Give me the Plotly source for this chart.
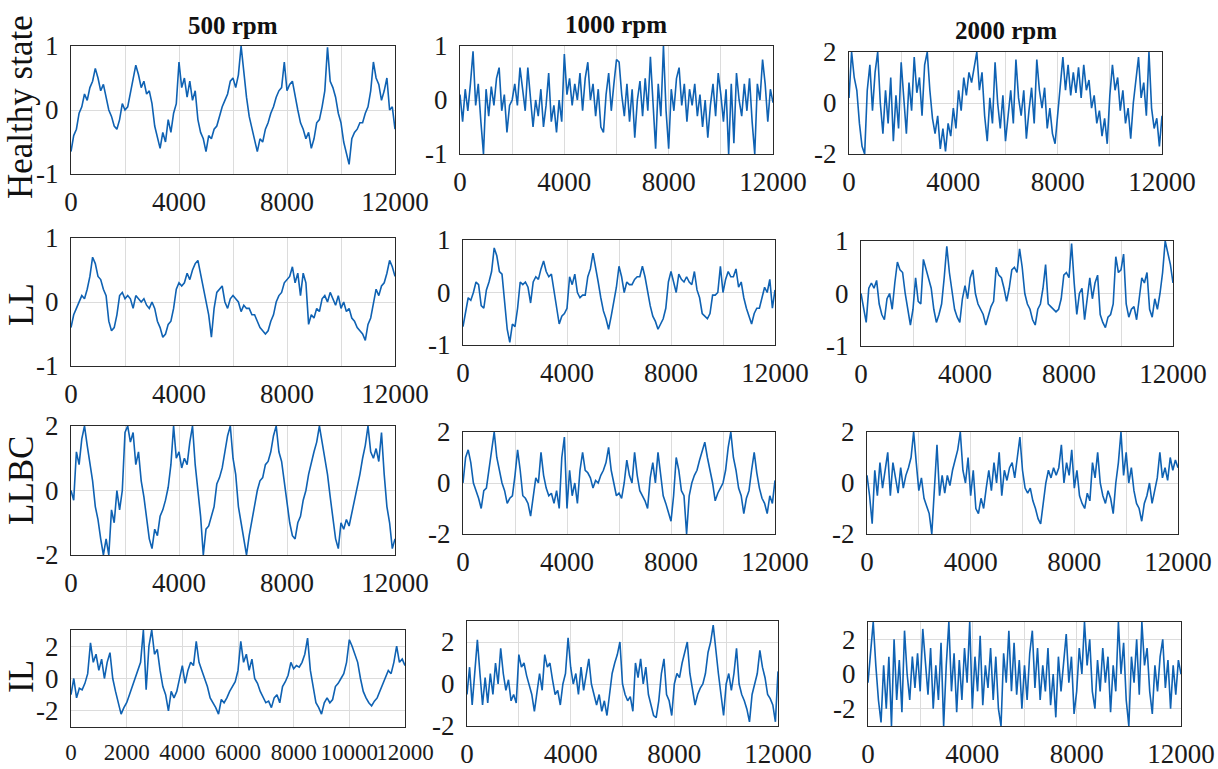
import plotly.graph_objects as go

W, H = 1218, 769

# sample index axis (every 100 samples)
samples = list(range(0, 12001, 100))

healthy_500 = [-0.65,-0.4,-0.3,-0.05,0.05,0.25,0.15,0.35,0.45,0.65,0.5,0.3,0.4,0.2,0.0,-0.1,-0.25,-0.3,-0.15,0.1,
0.0,0.05,0.25,0.45,0.7,0.55,0.35,0.45,0.25,0.3,0.1,-0.25,-0.45,-0.6,-0.35,-0.5,-0.15,-0.35,-0.05,0.1,
0.75,0.35,0.5,0.2,0.45,0.15,0.3,-0.15,-0.35,-0.45,-0.65,-0.4,-0.45,-0.3,-0.25,-0.1,0.05,0.15,0.25,0.45,
0.5,0.35,0.55,1.0,0.55,0.2,-0.1,-0.3,-0.5,-0.65,-0.45,-0.5,-0.3,-0.2,-0.05,0.05,0.2,0.3,0.35,0.75,
0.3,0.4,0.45,0.2,0.0,-0.2,-0.3,-0.45,-0.35,-0.6,-0.45,-0.2,-0.15,0.05,0.3,0.98,0.45,0.35,0.2,-0.05,
-0.2,-0.5,-0.7,-0.85,-0.45,-0.35,-0.3,-0.2,-0.2,-0.05,0.05,0.3,0.75,0.5,0.4,0.15,0.3,0.5,0.0,0.05,-0.3]

healthy_1000 = [0.1,-0.4,0.2,-0.2,0.3,0.9,-0.1,0.3,-0.4,-1.0,0.2,-0.3,0.25,-0.1,0.4,0.6,-0.2,0.1,-0.6,-0.1,
0.0,0.3,-0.1,0.6,0.2,-0.2,0.6,0.1,-0.5,0.0,-0.3,0.2,-0.5,-0.1,0.5,-0.4,-0.1,-0.6,0.0,-0.4,
0.85,0.1,0.4,-0.1,0.3,0.0,0.5,-0.2,0.4,0.7,0.0,0.3,-0.3,0.2,-0.5,-0.6,0.1,0.5,-0.2,0.3,
0.75,0.7,0.1,-0.3,0.3,-0.4,0.2,-0.7,0.0,0.35,-0.3,0.4,-0.2,0.8,0.0,-0.9,0.3,-0.3,1.0,-0.2,
-0.9,0.2,-0.2,0.4,0.6,-0.1,0.3,-0.4,0.2,-0.1,0.3,-0.3,0.1,-0.5,0.0,-0.7,-0.1,0.3,-0.3,0.5,
0.1,-0.4,0.2,-1.0,0.3,-0.8,0.5,0.0,-0.3,0.3,-0.2,0.4,-0.4,-1.0,0.3,0.0,0.75,0.3,-0.4,0.2,-0.05]

healthy_2000 = [0.2,2.0,1.0,0.5,-0.8,-1.7,-2.0,0.5,1.5,-0.3,1.2,2.0,0.0,-1.2,0.5,-0.8,1.0,-1.5,0.3,-1.0,
1.6,0.2,-1.2,0.8,-0.3,1.8,0.4,1.0,-0.5,1.5,2.0,0.5,-0.6,-1.2,-0.5,-1.8,-1.0,-1.9,-0.8,-1.3,
-0.2,-1.0,0.5,-0.3,1.0,0.3,1.2,0.8,1.5,2.0,0.5,1.2,-0.5,-1.5,0.2,-0.8,1.6,0.0,-1.0,0.3,
-1.5,-0.5,0.5,-0.8,1.7,0.2,-0.5,0.5,-1.4,-0.3,0.6,-0.8,1.7,0.5,-0.2,0.6,-1.0,-0.2,-1.2,-1.6,
-0.5,0.8,1.8,0.5,1.5,0.3,1.2,0.4,1.4,0.2,1.5,0.5,0.9,-0.2,0.3,-0.8,-0.3,-1.3,-0.6,-1.6,
0.3,1.5,0.5,1.0,-0.3,0.5,-0.8,-0.2,-1.4,0.0,1.0,1.8,0.2,0.8,-0.5,2.0,-0.2,-1.0,-0.6,-1.7,-0.5]

ll_500 = [-0.4,-0.2,-0.1,0.0,0.1,0.05,0.2,0.4,0.7,0.6,0.4,0.35,0.2,0.1,-0.3,-0.45,-0.4,-0.2,0.1,0.15,
0.05,0.1,0.05,-0.1,0.1,0.05,0.0,0.05,-0.05,-0.1,0.0,-0.1,-0.3,-0.4,-0.55,-0.5,-0.35,-0.3,-0.1,0.2,
0.3,0.25,0.3,0.45,0.35,0.5,0.6,0.65,0.45,0.25,0.05,-0.2,-0.55,-0.1,0.15,0.2,0.25,0.0,-0.1,0.05,
0.1,0.05,0.0,-0.15,-0.05,-0.1,-0.1,-0.2,-0.2,-0.3,-0.4,-0.45,-0.5,-0.45,-0.3,-0.2,0.0,0.1,0.15,0.3,
0.35,0.4,0.55,0.3,0.45,0.1,0.45,0.3,-0.35,-0.2,-0.25,-0.1,-0.15,0.05,0.1,0.0,0.15,0.05,-0.05,0.1,
-0.1,0.0,-0.15,-0.1,-0.25,-0.3,-0.4,-0.45,-0.5,-0.6,-0.35,-0.25,-0.05,0.2,0.1,0.25,0.3,0.45,0.65,0.55,0.4]

ll_1000 = [-0.65,-0.4,-0.1,-0.15,0.0,0.2,0.15,-0.25,-0.3,0.05,0.2,0.4,0.85,0.7,0.4,0.35,-0.2,-0.7,-0.95,-0.6,
-0.65,-0.3,0.2,0.15,0.2,0.1,-0.2,0.2,0.3,0.25,0.45,0.6,0.4,0.3,0.35,0.0,-0.3,-0.6,-0.45,-0.4,
-0.3,0.3,0.15,0.35,0.0,-0.1,-0.05,-0.05,0.3,0.45,0.75,0.5,0.2,-0.1,-0.35,-0.5,-0.7,-0.45,-0.2,0.1,
0.5,0.3,0.0,0.2,0.15,0.15,0.25,0.3,0.3,0.5,0.3,0.0,-0.25,-0.45,-0.55,-0.7,-0.6,-0.5,-0.3,0.2,
0.4,0.2,0.0,0.35,0.25,0.2,0.3,0.2,0.15,0.4,0.05,-0.1,-0.4,-0.45,-0.5,-0.4,-0.05,-0.05,0.0,0.5,
0.0,0.25,0.4,0.3,0.3,0.45,0.1,0.2,-0.1,-0.3,-0.45,-0.6,-0.4,-0.3,-0.3,-0.1,0.1,0.0,0.25,-0.3,0.05]

ll_2000 = [0.0,-0.3,-0.55,0.1,0.2,0.1,0.25,-0.2,-0.4,-0.5,-0.1,0.0,-0.3,0.2,0.6,0.45,0.4,0.0,-0.3,-0.6,
-0.3,0.3,-0.15,-0.2,0.65,0.45,0.3,0.1,-0.3,-0.55,-0.4,-0.2,0.3,0.9,0.4,0.0,-0.3,-0.45,-0.55,-0.1,
0.15,-0.1,0.3,0.45,0.0,-0.2,-0.3,-0.4,-0.6,-0.4,-0.25,-0.15,0.5,0.35,0.3,0.1,-0.15,0.1,0.45,0.5,
0.4,0.85,0.5,0.0,-0.2,-0.3,-0.5,-0.6,-0.3,-0.2,0.1,0.55,-0.2,-0.25,-0.3,-0.35,-0.3,-0.1,0.35,0.4,
0.3,0.95,0.2,-0.4,0.0,0.1,-0.5,-0.1,0.3,-0.1,0.2,0.35,-0.4,-0.55,-0.65,-0.45,-0.4,-0.2,0.7,0.4,
0.45,0.75,-0.2,-0.45,-0.3,-0.25,-0.5,-0.1,0.3,0.2,0.4,-0.3,-0.45,-0.1,-0.3,0.0,0.4,1.0,0.8,0.55,0.2]

llbc_500 = [0.0,-0.3,1.2,0.8,1.6,2.0,1.4,0.8,0.3,-0.5,-0.9,-1.5,-2.0,-1.5,-2.0,-0.6,-1.0,0.0,-0.6,0.0,
1.8,2.0,1.5,1.8,0.8,1.2,0.3,-0.2,-0.8,-1.5,-1.8,-1.2,-1.4,-0.8,-0.6,-0.3,0.1,0.8,2.0,1.0,
1.2,0.7,1.0,0.8,1.5,2.0,0.8,0.0,-0.8,-2.0,-1.2,-1.1,-0.8,-0.5,0.2,0.4,0.7,1.2,1.7,2.0,
1.0,0.5,-0.5,-1.0,-1.5,-2.0,-1.4,-0.9,-0.5,0.0,0.3,0.4,0.8,0.9,1.2,1.7,2.0,1.2,0.9,0.3,
-0.4,-1.0,-1.4,-1.5,-1.0,-0.8,-0.3,0.0,0.5,0.9,1.2,1.5,2.0,1.5,1.0,0.5,-0.2,-0.8,-1.5,-1.8,
-1.0,-1.2,-0.9,-1.1,-0.7,-0.3,0.0,0.5,1.0,1.4,2.0,1.2,1.0,1.3,0.9,1.8,0.5,-0.5,-1.0,-1.8,-1.5]

llbc_1000 = [0.0,1.0,1.3,0.8,0.0,-0.3,-0.6,-1.0,-0.3,-0.2,0.5,1.2,2.0,1.0,0.5,0.0,-0.3,-0.8,-0.6,-0.5,
0.3,1.3,0.5,-0.5,-0.6,-0.8,-1.3,-0.5,0.2,0.0,1.2,0.3,-0.2,-0.5,-0.4,-0.8,-0.3,-1.0,1.0,1.8,
-1.0,0.5,-0.5,0.0,-0.8,0.5,1.2,0.5,0.4,0.2,-0.2,0.1,0.0,0.3,0.5,0.8,1.4,0.5,0.0,-0.5,
-0.4,-0.6,0.0,0.9,0.3,0.0,1.2,0.3,-0.3,-0.5,-0.7,-1.0,0.2,0.8,0.0,1.2,0.3,-0.5,-0.8,-1.2,
-1.5,-0.5,1.0,0.5,-0.3,-0.5,-2.0,-0.5,0.0,0.3,0.5,0.9,1.3,1.6,1.0,0.5,0.0,-0.7,-0.4,-0.2,
0.0,0.5,1.4,2.0,1.0,0.5,-0.2,-0.5,-1.2,-0.6,-0.3,0.5,1.2,0.4,-0.2,-0.6,-0.8,-1.2,-0.5,-0.8,0.1]

llbc_2000 = [0.3,-0.5,-1.6,0.5,-0.5,0.8,-0.2,0.5,1.2,-0.5,0.8,0.2,-0.4,0.6,-0.2,0.3,0.6,1.0,2.0,0.8,
-0.3,0.2,-0.6,-0.9,-1.2,-2.0,0.0,1.5,-0.5,0.3,-0.4,0.3,-0.1,0.5,0.9,1.3,2.0,0.5,0.0,1.0,
-0.5,0.5,-1.0,-1.2,-0.6,-1.0,-0.2,0.5,-0.3,0.8,0.0,1.2,-0.5,0.5,0.1,0.6,0.8,0.2,1.0,1.8,
0.5,-0.2,-0.4,-0.2,-0.7,-1.0,-1.4,-1.6,-0.8,0.0,0.5,0.2,0.6,0.3,0.6,1.5,0.0,0.8,0.3,1.3,
-0.2,0.5,-0.5,-0.8,-1.0,-0.4,-0.7,0.8,0.2,1.2,0.0,-0.5,-0.8,-0.3,-0.6,-1.2,0.0,0.8,2.0,0.3,
1.2,0.0,0.6,-0.3,-0.8,-1.0,-1.5,-0.8,-0.5,0.0,-0.8,-0.3,0.2,1.2,0.2,0.6,0.1,1.0,0.5,0.9,0.6]

il_500 = [-1.0,0.0,-1.2,-0.6,-0.7,-0.3,0.3,2.2,1.0,1.5,0.5,1.2,0.0,1.0,1.6,0.0,-0.8,-1.5,-2.2,-1.8,
-1.5,-1.0,-0.5,0.0,0.5,1.0,3.0,-0.7,2.0,3.0,1.5,1.8,0.5,-0.5,-1.0,-2.0,-0.8,-1.2,-0.8,0.0,
0.8,-0.3,0.5,1.0,0.8,2.3,1.0,0.5,0.0,-0.5,-1.2,-1.5,-1.8,-2.2,-1.3,-1.5,-1.2,-0.8,-0.5,-0.2,
0.5,2.3,1.0,1.5,0.5,1.2,0.0,-0.3,-0.8,-1.2,-1.5,-1.4,-1.8,-1.2,-1.0,-1.5,-0.5,-0.2,0.2,1.0,
0.6,0.8,0.7,1.0,1.5,2.5,0.5,-0.5,-1.5,-1.8,-2.2,-1.5,-1.2,-1.5,-1.3,-0.5,-0.3,0.0,0.3,1.0,
2.4,2.0,1.5,1.0,0.0,-0.8,-1.2,-1.5,-1.7,-1.4,-1.2,-0.8,-0.3,0.0,0.5,0.3,1.0,2.0,1.0,1.2,0.8]

il_1000 = [-0.5,0.8,-1.0,0.5,2.1,0.5,-1.0,0.3,-0.9,0.5,-0.5,1.0,0.0,1.7,0.5,-0.3,0.2,-0.8,-0.5,-0.9,
1.4,0.8,1.0,0.4,0.0,-0.5,-1.3,-0.5,0.5,-0.3,1.4,0.8,1.0,0.2,-0.5,-0.3,-1.0,0.0,0.5,2.2,
0.8,0.0,0.5,-0.5,0.8,-0.3,0.5,1.2,0.0,-0.5,-1.0,-0.5,-1.3,-0.8,-1.5,-0.5,0.5,1.0,1.4,2.0,
0.0,-0.5,-0.8,-0.6,-1.3,1.0,0.3,1.2,0.0,0.8,-0.5,-1.0,-1.5,-1.6,-0.8,0.5,1.2,-0.5,-0.8,-1.5,
0.0,0.5,0.3,1.0,1.5,2.0,0.5,-0.3,-1.0,-0.5,-0.2,0.0,0.5,1.5,2.0,2.8,1.5,0.5,-0.5,-1.5,
0.0,0.5,-0.3,0.5,1.7,0.0,-0.5,-0.8,-1.2,-1.8,-0.5,0.0,0.5,1.6,0.8,0.3,-0.5,-0.7,-1.0,-1.8,0.6]

il_2000 = [-0.5,1.5,3.0,0.5,-1.5,-2.8,0.5,-2.0,1.0,-3.0,2.0,-1.5,0.8,-2.2,2.5,0.0,-1.5,1.0,-0.8,1.2,
-1.0,2.6,0.5,-1.2,1.5,-2.0,0.5,-1.5,1.8,-3.0,0.5,3.0,-1.0,1.2,-2.2,0.8,-1.5,1.5,-0.5,3.0,
-2.0,1.0,-1.0,2.2,-1.8,0.5,-0.8,1.5,-1.5,1.0,-2.0,-3.0,1.2,-0.5,2.5,-1.0,1.8,-1.2,0.8,-2.0,
0.5,-1.5,1.2,2.5,-0.8,1.5,-1.5,0.5,-1.0,1.5,-1.8,0.0,-2.5,1.0,-1.0,0.5,2.3,-0.5,1.0,-2.3,
-1.0,1.5,0.0,3.0,0.5,2.0,-1.0,-2.0,0.8,-1.0,1.5,-0.5,1.0,-2.2,0.5,-1.0,3.0,0.0,1.8,-1.5,
-3.0,1.0,-0.5,2.0,-1.2,3.0,0.5,1.5,-1.0,-2.3,0.5,-1.0,1.0,2.0,-0.8,0.8,-2.0,0.5,-1.2,0.8,0.0]

row_labels = ["Healthy state", "LL", "LLBC", "IL"]
col_titles = ["500 rpm", "1000 rpm", "2000 rpm"]

series = [healthy_500, healthy_1000, healthy_2000,
          ll_500, ll_1000, ll_2000,
          llbc_500, llbc_1000, llbc_2000,
          il_500, il_1000, il_2000]

y_ranges = [[-1, 1], [-1, 1], [-2, 2],
            [-1, 1], [-1, 1], [-1, 1],
            [-2, 2], [-2, 2], [-2, 2],
            [-3, 3], [-2, 3], [-3, 3]]
y_ticks = [[-1, 0, 1], [-1, 0, 1], [-2, 0, 2],
           [-1, 0, 1], [-1, 0, 1], [-1, 0, 1],
           [-2, 0, 2], [-2, 0, 2], [-2, 0, 2],
           [-2, 0, 2], [-2, 0, 2], [-2, 0, 2]]

# panel boxes in pixels: left, right, top, bottom
boxes = [(71, 395, 46, 174), (460, 773, 46, 154), (849, 1162, 52, 154),
         (71, 395, 238, 366), (463, 775, 240, 345), (861, 1173, 241, 346),
         (71, 395, 426, 555), (463, 775, 432, 534), (867, 1178, 432, 534),
         (71, 405, 630, 727), (467, 778, 621, 726), (868, 1181, 622, 726)]

x_tickvals = [0, 2000, 4000, 6000, 8000, 10000, 12000]
x_text_sparse = ["0", "", "4000", "", "8000", "", "12000"]
x_text_full = ["0", "2000", "4000", "6000", "8000", "10000", "12000"]

SERIF = "Liberation Serif"
LINE = "#0f62b3"
GRID = "#dcdcdc"
BOX = "#2a2a2a"

fig = go.Figure()
layout = dict(width=W, height=H,
              margin=dict(l=0, r=0, t=0, b=0, pad=0, autoexpand=False),
              paper_bgcolor="white", plot_bgcolor="white", showlegend=False,
              font=dict(family=SERIF, color="#1a1a1a"))

for i, (ys, (l, r, t, b)) in enumerate(zip(series, boxes)):
    n = i + 1
    xa = "x" if n == 1 else f"x{n}"
    ya = "y" if n == 1 else f"y{n}"
    fig.add_trace(go.Scatter(x=samples, y=ys, mode="lines", xaxis=xa, yaxis=ya,
                             line=dict(color=LINE, width=1.6), hoverinfo="skip"))
    full = (i == 9)
    layout["xaxis" if n == 1 else f"xaxis{n}"] = dict(
        domain=[l / W, r / W], anchor=ya, range=[0, 12000],
        tickvals=x_tickvals, ticktext=x_text_full if full else x_text_sparse,
        tickangle=0, automargin=False,
        showgrid=True, gridcolor=GRID, gridwidth=1, zeroline=False,
        showline=True, linecolor=BOX, linewidth=1, mirror=True, ticks="",
        tickfont=dict(family=SERIF, size=23 if full else 27, color="#1a1a1a"),
        ticklabelstandoff=4)
    layout["yaxis" if n == 1 else f"yaxis{n}"] = dict(
        domain=[1 - b / H, 1 - t / H], anchor=xa, range=y_ranges[i],
        tickvals=y_ticks[i], ticktext=[str(v) for v in y_ticks[i]],
        automargin=False,
        showgrid=True, gridcolor=GRID, gridwidth=1, zeroline=False,
        showline=True, linecolor=BOX, linewidth=1, mirror=True, ticks="",
        tickfont=dict(family=SERIF, size=27, color="#1a1a1a"),
        ticklabelstandoff=6)

annotations = []
row_centers = [107, 305, 481, 677]
for lab, yc in zip(row_labels, row_centers):
    annotations.append(dict(text=lab, x=21 / W, y=1 - yc / H, xref="paper", yref="paper",
                            textangle=-90, showarrow=False, xanchor="center", yanchor="middle",
                            font=dict(family=SERIF, size=35, color="#111111")))
title_pos = [(233, 25), (616, 24), (1006, 31)]
for lab, (xc, yc) in zip(col_titles, title_pos):
    annotations.append(dict(text=f"<b>{lab}</b>", x=xc / W, y=1 - yc / H, xref="paper", yref="paper",
                            showarrow=False, xanchor="center", yanchor="middle",
                            font=dict(family=SERIF, size=25, color="#111111")))
layout["annotations"] = annotations

fig.update_layout(**layout)
fig.write_html("out.html")
